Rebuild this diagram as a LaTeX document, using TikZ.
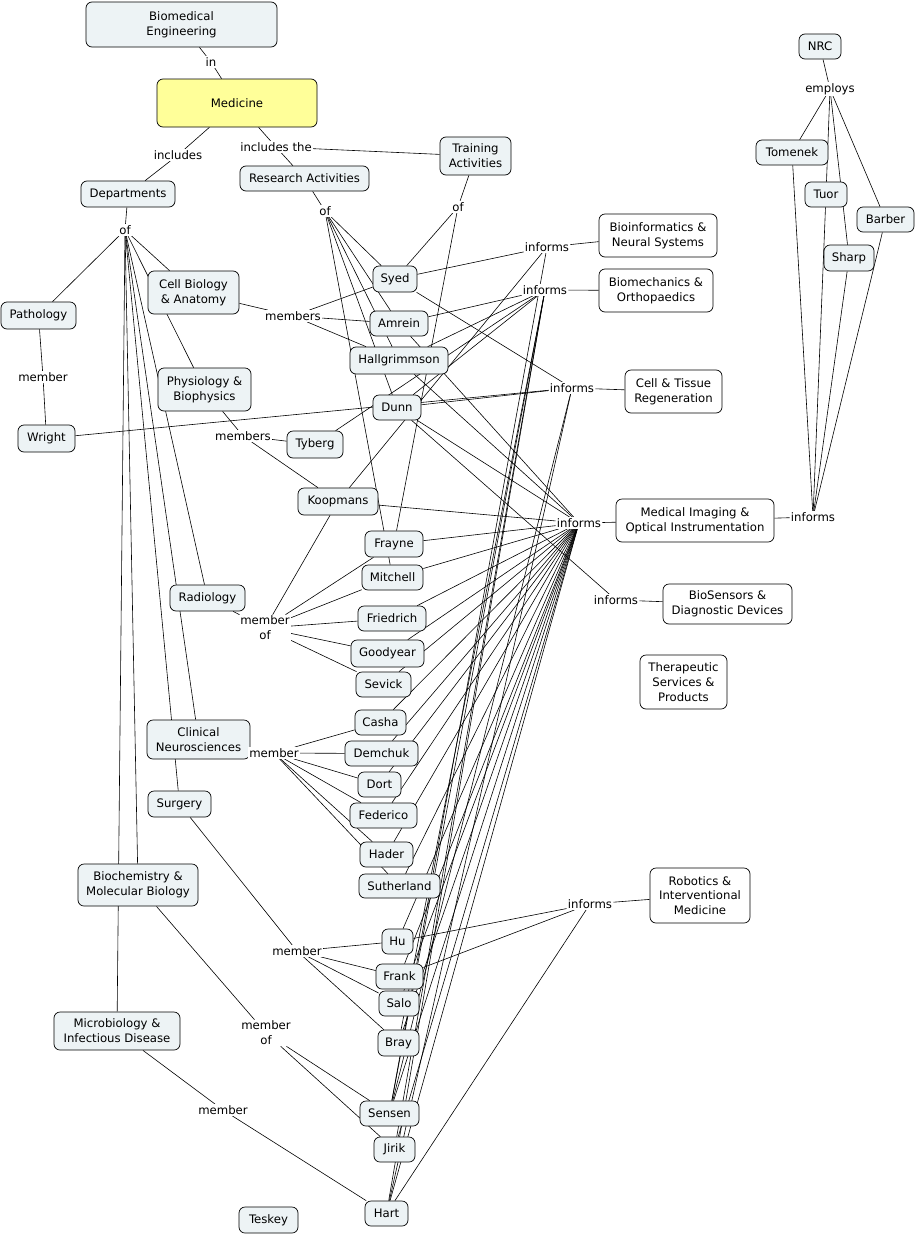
\documentclass[tikz,border=0pt]{standalone}
\usepackage{fontspec}
\setmainfont{DejaVu Sans}
\pgfdeclarelayer{bg}
\pgfsetlayers{bg,main}
\definecolor{nodefill}{RGB}{237,243,245}
\definecolor{medfill}{RGB}{255,255,153}
\tikzset{
  cn/.style={draw=black, line width=0.7pt, rounded corners=6pt, fill=nodefill, align=center, inner sep=1pt},
  tg/.style={cn, fill=white},
  sz/.style 2 args={minimum width=#1pt, minimum height=#2pt},
  lp/.style={fill=white, inner sep=1.2pt, align=center},
  ln/.style={draw=black, line width=0.6pt},
}
\begin{document}
\begin{tikzpicture}[x=1pt, y=-1pt, font=\fontsize{11.7}{14.8}\selectfont]
\useasboundingbox (0,0) rectangle (916,1237);
% concepts
\node[cn, sz={191}{45}] (bme) at (181.5,24.5) {Biomedical\\Engineering};
\node[cn, sz={160}{48}, fill=medfill] (med) at (237,103) {Medicine};
\node[cn, sz={94}{26}] (dep) at (128,194) {Departments};
\node[cn, sz={129}{25}] (ra) at (304.5,178.5) {Research Activities};
\node[cn, sz={71}{38}] (ta) at (475.5,156) {Training\\Activities};
\node[tg, sz={118}{43}] (bio) at (658,235.5) {Bioinformatics \&\\Neural Systems};
\node[tg, sz={114}{43}] (bmo) at (656,290.5) {Biomechanics \&\\Orthopaedics};
\node[cn, sz={44}{26}] (syed) at (395,279) {Syed};
\node[cn, sz={58}{25}] (amrein) at (399,323.5) {Amrein};
\node[cn, sz={98}{27}] (hall) at (399,360.5) {Hallgrimmson};
\node[cn, sz={48}{25}] (dunn) at (397,407.5) {Dunn};
\node[cn, sz={91}{43}] (cba) at (193.5,292.5) {Cell Biology\\\& Anatomy};
\node[cn, sz={75}{27}] (path) at (38.5,315.5) {Pathology};
\node[cn, sz={57}{27}] (wright) at (46.5,438.5) {Wright};
\node[cn, sz={93}{43}] (pb) at (204.5,389.5) {Physiology \&\\Biophysics};
\node[cn, sz={56}{27}] (tyberg) at (315,444.5) {Tyberg};
\node[cn, sz={80}{27}] (koop) at (338,501.5) {Koopmans};
\node[tg, sz={97}{43}] (ctr) at (673.5,391.5) {Cell \& Tissue\\Regeneration};
\node[tg, sz={158}{43}] (mi) at (695,520.5) {Medical Imaging \&\\Optical Instrumentation};
\node[tg, sz={129}{40}] (bs) at (727.5,604) {BioSensors \&\\Diagnostic Devices};
\node[tg, sz={87}{54}] (ts) at (683.5,682) {Therapeutic\\Services \&\\Products};
\node[cn, sz={42}{25}] (nrc) at (820,46.5) {NRC};
\node[cn, sz={72}{25}] (tomenek) at (792,152.5) {Tomenek};
\node[cn, sz={42}{25}] (tuor) at (826,194.5) {Tuor};
\node[cn, sz={57}{25}] (barber) at (885.5,219.5) {Barber};
\node[cn, sz={50}{26}] (sharp) at (849,258) {Sharp};
\node[cn, sz={58}{26}] (frayne) at (394,544) {Frayne};
\node[cn, sz={61}{25}] (mitchell) at (392.5,577.5) {Mitchell};
\node[cn, sz={75}{26}] (radio) at (207.5,598) {Radiology};
\node[cn, sz={68}{25}] (friedrich) at (392,618.5) {Friedrich};
\node[cn, sz={73}{27}] (goodyear) at (387.5,653.5) {Goodyear};
\node[cn, sz={55}{25}] (sevick) at (383.5,684.5) {Sevick};
\node[cn, sz={51}{25}] (casha) at (380.5,722.5) {Casha};
\node[cn, sz={103}{39}] (clin) at (198.5,739.5) {Clinical\\Neurosciences};
\node[cn, sz={73}{25}] (demchuk) at (381.5,753.5) {Demchuk};
\node[cn, sz={43}{25}] (dort) at (379.5,784.5) {Dort};
\node[cn, sz={67}{25}] (federico) at (383.5,815.5) {Federico};
\node[cn, sz={63}{26}] (surgery) at (179.5,804) {Surgery};
\node[cn, sz={53}{25}] (hader) at (386.5,854.5) {Hader};
\node[cn, sz={81}{24}] (suth) at (399.5,886) {Sutherland};
\node[cn, sz={120}{42}] (bmb) at (138,885) {Biochemistry \&\\Molecular Biology};
\node[cn, sz={31}{25}] (hu) at (397.5,941.5) {Hu};
\node[cn, sz={47}{25}] (frank) at (399.5,976.5) {Frank};
\node[cn, sz={40}{25}] (salo) at (399,1003.5) {Salo};
\node[cn, sz={41}{26}] (bray) at (398.5,1043) {Bray};
\node[cn, sz={126}{38}] (mid) at (117,1031) {Microbiology \&\\Infectious Disease};
\node[cn, sz={59}{25}] (sensen) at (389.5,1113.5) {Sensen};
\node[cn, sz={41}{25}] (jirik) at (394.5,1149.5) {Jirik};
\node[cn, sz={43}{25}] (hart) at (386.5,1213.5) {Hart};
\node[cn, sz={59}{26}] (teskey) at (268.5,1220) {Teskey};
\node[tg, sz={100}{55}] (rim) at (700,895.5) {Robotics \&\\Interventional\\Medicine};
% linking phrases
\node[lp] (lin) at (211,62) {in};
\node[lp] (lincl) at (178,155) {includes};
\node[lp] (linclthe) at (276,147) {includes the};
\node[lp] (lofa) at (125,230) {of};
\node[lp] (lofb) at (325,211) {of};
\node[lp] (lofc) at (458,207) {of};
\node[lp] (linfa) at (547,247) {informs};
\node[lp] (linfb) at (545,290) {informs};
\node[lp] (linfc) at (572,388) {informs};
\node[lp] (linfd) at (579,523) {informs};
\node[lp] (linfe) at (616,600) {informs};
\node[lp] (linff) at (590,904) {informs};
\node[lp] (linfg) at (813,517) {informs};
\node[lp] (lemp) at (830,89) {employs};
\node[lp] (lmema) at (293,316) {members};
\node[lp] (lmemb) at (243,436) {members};
\node[lp] (lmemc) at (43,377) {member};
\node[lp] (lmoa) at (265,628) {member\\of};
\node[lp] (lmemd) at (274,753) {member};
\node[lp] (lmeme) at (297,951) {member};
\node[lp] (lmob) at (266,1033) {member\\of};
\node[lp] (lmemf) at (223,1110) {member};
% connectors
\begin{pgfonlayer}{bg}
\draw[ln] (bme) -- (lin) -- (med);
\draw[ln] (med) -- (lincl) -- (dep);
\draw[ln] (med) -- (linclthe) -- (ra);
\draw[ln] (linclthe) -- (ta);
\draw[ln] (dep) -- (lofa);
\foreach \t in {path,cba,pb,radio,clin,surgery,bmb,mid} \draw[ln] (lofa) -- (\t);
\draw[ln] (ra) -- (lofb);
\foreach \t in {syed,amrein,hall,dunn,mitchell} \draw[ln] (lofb) -- (\t);
\draw[ln] (ta) -- (lofc);
\foreach \t in {syed,frayne} \draw[ln] (lofc) -- (\t);
\draw[ln] (cba) -- (lmema);
\foreach \t in {syed,amrein,hall} \draw[ln] (lmema) -- (\t);
\draw[ln] (pb) -- (lmemb);
\foreach \t in {tyberg,koop} \draw[ln] (lmemb) -- (\t);
\draw[ln] (path) -- (lmemc) -- (wright);
\draw[ln] (radio) -- (lmoa);
\foreach \t in {koop,frayne,mitchell,friedrich,goodyear,sevick} \draw[ln] (lmoa) -- (\t);
\draw[ln] (clin) -- (lmemd);
\foreach \t in {casha,demchuk,dort,federico,hader,suth} \draw[ln] (lmemd) -- (\t);
\draw[ln] (surgery) -- (lmeme);
\foreach \t in {hu,frank,salo,bray} \draw[ln] (lmeme) -- (\t);
\draw[ln] (bmb) -- (lmob);
\foreach \t in {sensen,jirik} \draw[ln] (lmob) -- (\t);
\draw[ln] (mid) -- (lmemf) -- (hart);
\draw[ln] (nrc) -- (lemp);
\foreach \t in {tomenek,tuor,sharp,barber} \draw[ln] (lemp) -- (\t);
\foreach \t in {tomenek,tuor,sharp,barber} \draw[ln] (\t) -- (linfg);
\draw[ln] (linfg) -- (mi);
% informs
\draw[ln] (linfa) -- (bio);
\foreach \t in {syed,koop,sensen} \draw[ln] (\t) -- (linfa);
\draw[ln] (linfb) -- (bmo);
\foreach \t in {amrein,hall,dunn,tyberg,sensen,jirik,hart,bray} \draw[ln] (\t) -- (linfb);
\draw[ln] (linfc) -- (ctr);
\foreach \t in {syed,wright,dunn,sensen,hart} \draw[ln] (\t) -- (linfc);
\draw[ln] (linfd) -- (mi);
\foreach \t in {amrein,hall,dunn,koop,frayne,mitchell,friedrich,goodyear,sevick,casha,demchuk,dort,federico,hader,suth,hu,frank,salo,bray,sensen,jirik,hart} \draw[ln] (\t) -- (linfd);
\draw[ln] (linfe) -- (bs);
\draw[ln] (dunn) -- (linfe);
\draw[ln] (linff) -- (rim);
\foreach \t in {hu,frank,hart} \draw[ln] (\t) -- (linff);
\end{pgfonlayer}
\end{tikzpicture}
\end{document}
